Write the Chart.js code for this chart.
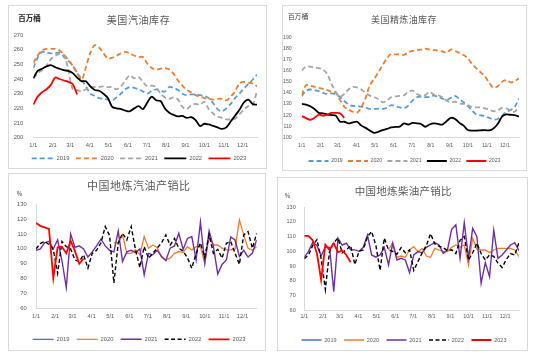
<!DOCTYPE html>
<html><head><meta charset="utf-8">
<script src="https://cdn.jsdelivr.net/npm/chart.js@4.4.0/dist/chart.umd.min.js"></script>
<style>
html,body{margin:0;padding:0;background:#fff;}
body{width:550px;height:357px;position:relative;overflow:hidden;}
.panel{position:absolute;border:1px solid #D9D9D9;box-sizing:border-box;background:#fff;}
canvas{position:absolute;}
</style></head><body>
<div class="panel" style="left:8px;top:5px;width:259px;height:164px"></div>
<div class="panel" style="left:282px;top:5px;width:245px;height:166px"></div>
<div class="panel" style="left:8px;top:173px;width:258px;height:178px"></div>
<div class="panel" style="left:277px;top:177px;width:251px;height:174px"></div>
<canvas id="c1"></canvas><canvas id="c2"></canvas><canvas id="c3"></canvas><canvas id="c4"></canvas>
<script>
// ---------- labels ----------
const monthLabels = ['1/1','2/1','3/1','4/1','5/1','6/1','7/1','8/1','9/1','10/1','11/1','12/1'];
const monthStartDay = [0,31,59,90,120,151,181,212,243,273,304,334];
const seriesNames = ['2019','2020','2021','2022','2023'];

// ---------- 美国汽油库存 (百万桶), weekly ----------
const gas2019 = [247.5,254.5,258.5,258,257.5,257.5,258,255,252.5,249,244,240,235,230,228.5,227,226.5,226,225.5,227.5,230,233,234.5,234,233,231.5,230,232,233,232,231.5,234.5,234,232.5,230,229,229.5,229.5,229,228.5,227,223.5,219.5,218,220,223,227,230,233.5,236.5,239.5,243];
const gas2020 = [251,256,259.5,260.5,260.5,260.5,259.5,256.5,253,249,244.5,239.5,248,258,263,261.5,257.5,254,254.5,256,257.5,258.5,257.5,256,255,255,250.5,247.5,246.5,247,247.5,246.5,243.5,239,235.5,232.5,231,229,228,227,226.5,226,226.5,226.5,225.5,228,231.5,237,238,237.5,237,235];
const gas2021 = [240.5,244,246,249,253.5,256,257,256.5,246,233,232.5,231.5,233,234.5,234.5,234.5,235,234.5,234.5,233,235,239,242.5,240.5,241.5,238,235,235.5,234.5,230,227.5,226.5,227.5,226,221,219.5,222,223,222.5,224.5,219.5,216.5,214.5,213.5,212.5,212.5,213,216,219,221.5,222.3,232];
const gas2022 = [240.5,245.5,247,248.5,249.5,248,247,246,245.5,244,241,238.5,238.5,235,232.5,232,230,227,221,220,219.5,218.5,218,220,221.5,219.5,224,228,225.5,225,220,217,215.5,214.5,214.8,213.5,214,212,208,209.5,209,208,207,206,207,211,215,219,224,226,223,222.5];
const gas2023 = [222.5,228,231,233,236,241,240,239,238,236.5,229.5];

// ---------- 美国精炼油库存 (百万桶), weekly ----------
const dist2019 = [137,142,143,142.5,141.5,140,139,139.5,138.5,136,132.5,129.5,128.2,128,127.6,126.5,125.5,125.5,125.8,125.5,126.5,129,128,127,126.2,128.5,133,136,136.6,136.2,136.4,137.5,136.5,134.8,133.6,135.5,137.2,134.5,131.5,128,124,120.5,119.8,119,117.5,116,116.5,119.5,122.5,124.5,127.5,135];
const dist2020 = [138,147,146.5,145.5,144.5,143.5,142.5,141,140,133.5,127.5,125,123,122.2,127,135.5,147,152.5,158.5,165,171,175,174.7,174.7,174.2,176.5,177.7,178.3,179,179.8,179,178.6,178.2,177.3,176.2,179,177.7,176,174,171,166,162,158.5,155,149,144.5,146,150,151.5,149.5,150.5,153];
const dist2021 = [160,163.6,163.6,163,162.3,161,157,148,141,136.6,139,143,145.3,145,143,140,137.5,136.2,134.5,131.5,133,136,136.8,137.2,137.8,140.8,142,139,137.5,138,140.8,138.5,138,136,133,131.5,132,130.4,130,129,127,127,126.8,126,125,123.5,124,126.5,126,124,123,128];
const dist2022 = [130,129.5,128,125.5,122,121.6,120.5,120,119.5,114,114,112.5,113.5,114,110.5,108.5,106,104,105,106.5,107.5,109,109.3,109.6,112.5,111.5,113,112.6,112,109.5,111.5,112.5,112,111.5,114.5,117.5,116.5,113,110.5,106.5,106,106,106.3,106.5,106.2,108,112,118.5,120.6,120.3,120,118.6];
const dist2023 = [119.2,117.3,115.8,117.5,120.5,119.5,120.5,121.9,122,121.6,117.5];

// ---------- 中国地炼汽油产销比 (%), weekly ----------
const gr2019 = [];
const gr2020 = [null,null,null,null,null,null,null,null,null,null,null,null,null,null,null,null,null,null,104,104,109.4,97,97,99.3,96,108.3,100.4,102.6,101,94.4,92.6,93.7,97,98.2,97.5,101.5,99.3,101.5,101.5,90.3,108.3,102.6,102.6,100.4,99.3,99.3,100,119.5,109.4,100.4,99.3,101.5];
const gr2021 = [99,100,104,105,100,106,92,74,110,101,102,100,94.5,98,102,106.5,102,99,98,112,91.5,98,99,97.5,100,82.5,97,96,99,95,92,100.5,102,110.5,99.5,107,108.3,92.6,118,90.5,112,101.5,83,89.5,92.5,108,106,95,99,94.5,97,106];
const gr2022 = [100,103.5,105,103,99.5,83.5,105,101.5,100,92.5,91.5,96,87,97,99,104,115,109,77,104,110.5,106,115,99.3,87.5,101.5,93.7,97,100.5,104,109.4,102.6,107,100.4,98.5,94,87,97,104,94.4,109.4,97,99.7,93.7,103.8,104.9,97,89.6,109.4,111.6,100.4,110.5];
const gr2023 = [117.5,115.5,114.5,113.5,80.5,101,101.5,97,105.5,98.5,90,93.5];

// ---------- 中国地炼柴油产销比 (%), weekly ----------
const dr2019 = [];
const dr2020 = [null,null,null,null,null,null,null,null,null,null,null,null,null,null,null,null,null,null,null,null,100.9,105.9,95.9,96.8,95.9,100.9,103.2,99.8,102,96.8,95.9,102,100.9,99.8,99.8,102.7,104.3,102.7,104.3,90.7,108.9,101.4,100.9,100.9,99.1,100.9,102,102,102,102,100.9,96.4];
const dr2021 = [96,100,106,104,97,103,102.7,72.5,109,104.3,105.5,101,101,100,102.7,111,97.5,96,97.5,102.7,90.7,105.5,94.1,95.2,94.1,85.5,97.5,99.8,99.1,102.7,104.3,105.9,104.3,98.6,100.9,115,118,95.2,119.5,95.2,115.7,110,78.2,92.3,82.7,114.5,95.2,97.5,100.9,104.3,105.9,100.4];
const dr2022 = [95,97.5,104,108,95,74,100,106,109,99,101,104,91,100,101,110,113.5,104,87,109,101,100,98,102.5,99,101,87,93,99,104,112,105,103.5,102.5,100.5,101,98.5,107.5,110,94,99,105.5,98.5,94,97.5,96.5,92,89,94.5,98.5,97.5,106];
const dr2023 = [110.5,110.5,107.5,98.5,80.5,104.5,101,105.5,99.5,100.5,97.5,92.5];

// ---------- styles ----------
const stockStyles = [
  {color:'#5B9BD5', w:1.8, dash:[5,3]},
  {color:'#ED7D31', w:1.8, dash:[5,3]},
  {color:'#A5A5A5', w:1.8, dash:[5,3]},
  {color:'#000000', w:1.8, dash:[]},
  {color:'#FF0000', w:1.8, dash:[]}
];
const ratioStyles = [
  {color:'#4472C4', w:1.3, dash:[]},
  {color:'#ED7D31', w:1.3, dash:[]},
  {color:'#7030A0', w:1.4, dash:[]},
  {color:'#000000', w:1.4, dash:[4,2.5]},
  {color:'#FF0000', w:1.8, dash:[]}
];

function makeDatasets(arrays, styles, tension) {
  return arrays.map((arr, k) => ({
    label: seriesNames[k],
    data: arr.map((v, i) => ({x: i * 7, y: v})),
    borderColor: styles[k].color,
    backgroundColor: styles[k].color,
    borderWidth: styles[k].w,
    borderDash: styles[k].dash,
    pointRadius: 0, pointHoverRadius: 0, pointStyle: 'line',
    tension: tension, fill: false, spanGaps: false,
    order: arrays.length - 1 - k
  }));
}

const panelText = {
  id: 'panelText',
  afterDraw(chart, args, o) {
    const ctx = chart.ctx;
    ctx.save();
    ctx.textBaseline = 'middle';
    ctx.fillStyle = o.titleColor;
    ctx.font = `400 ${o.titleSize}px "Noto Sans CJK SC"`;
    ctx.textAlign = 'center';
    try { ctx.letterSpacing = o.titleSpacing + 'px'; } catch(e) {}
    ctx.fillText(o.title, o.titleX - o.L, o.titleY - o.T);
    try { ctx.letterSpacing = '0px'; } catch(e) {}
    ctx.fillStyle = o.unitColor;
    ctx.font = `${o.unitWeight} ${o.unitSize}px "Noto Sans CJK SC"`;
    ctx.textAlign = o.unitAlign;
    ctx.fillText(o.unit, o.unitX - o.L, o.unitY - o.T);
    ctx.restore();
  }
};

function buildPanel(p) {
  const W = Math.round(2 * (p.legendCX - p.L));
  const yW = p.areaLeft - p.L;
  const y2W = p.L + W - p.areaRight;
  const lfs = p.legendFont;
  const h = p.legendCY - p.areaBottom - p.legendPad - lfs / 2;
  const legendH = lfs + p.legendPad + 10;
  const Hraw = (p.areaBottom - p.T) + h + legendH;
  const H = Math.ceil(Hraw);
  const cv = document.getElementById(p.id);
  cv.width = W; cv.height = H;
  cv.style.left = p.L + 'px'; cv.style.top = p.T + 'px';
  cv.style.width = W + 'px'; cv.style.height = H + 'px';
  const tickFont = {family: 'Liberation Sans', size: p.tickFont};
  const xPad = p.xLabelCY - p.areaBottom - p.tickFont * 1.2 / 2;
  new Chart(cv, {
    type: 'line',
    data: {datasets: p.datasets},
    options: {
      responsive: false, animation: false, devicePixelRatio: 1,
      layout: {padding: {top: p.areaTop - p.T, left: 0, right: 0, bottom: H - Hraw}},
      plugins: {
        tooltip: {enabled: false},
        title: {display: false},
        legend: {
          position: 'bottom',
          labels: {
            usePointStyle: true, pointStyle: 'line', pointStyleWidth: p.boxW, boxHeight: lfs,
            padding: p.legendPad, color: '#595959',
            font: {family: 'Liberation Sans', size: lfs},
            generateLabels(chart) {
              const items = Chart.defaults.plugins.legend.labels.generateLabels(chart);
              items.forEach(it => {
                const ds = chart.data.datasets[it.datasetIndex];
                it.lineDash = ds.borderDash; it.lineWidth = ds.borderWidth;
                it.strokeStyle = ds.borderColor; it.fillStyle = ds.borderColor;
                it.pointStyle = 'line'; it.lineCap = 'butt';
              });
              items.sort((a, b) => a.datasetIndex - b.datasetIndex);
              return items;
            }
          }
        },
        panelText: p.text
      },
      scales: {
        x: {
          type: 'linear', min: 0, max: 357,
          afterBuildTicks(s) { s.ticks = monthStartDay.map(v => ({value: v})); },
          ticks: {autoSkip: false, maxRotation: 0, minRotation: 0,
                  callback: (v, i) => monthLabels[i], padding: xPad, font: tickFont, color: '#595959'},
          grid: {display: false, drawTicks: false},
          border: {display: true, color: '#D9D9D9', width: 1},
          afterFit(s) { s.height = h; }
        },
        y: {
          min: p.yMin, max: p.yMax,
          ticks: {stepSize: 10, padding: p.yPad, font: tickFont, color: '#595959'},
          grid: {display: false, drawTicks: false},
          border: {display: p.yBorder, color: '#D9D9D9', width: 1},
          afterFit(s) { s.width = yW; }
        },
        y2: {
          position: 'right', display: true,
          grid: {display: false, drawTicks: false}, border: {display: false},
          ticks: {display: false},
          afterFit(s) { s.width = y2W; }
        }
      }
    },
    plugins: [panelText]
  });
}

buildPanel({
  id: 'c1', L: 8, T: 5, legendCX: 139, areaLeft: 33.3, areaRight: 257, areaTop: 35, areaBottom: 137.7,
  xLabelCY: 145.7, legendCY: 158.3, legendFont: 5.8, legendPad: 6.4, boxW: 22, tickFont: 5.8, yPad: 10,
  yMin: 200, yMax: 270, yBorder: false,
  datasets: makeDatasets([gas2019, gas2020, gas2021, gas2022, gas2023], stockStyles, 0.3),
  text: {L: 8, T: 5, title: '美国汽油库存', titleX: 138.5, titleY: 20, titleSize: 10, titleSpacing: 0.6, titleColor: '#595959',
         unit: '百万桶', unitX: 18.3, unitY: 18.3, unitSize: 7.5, unitWeight: 700, unitColor: '#262626', unitAlign: 'left'}
});
buildPanel({
  id: 'c2', L: 282, T: 5, legendCX: 404.5, areaLeft: 301.7, areaRight: 519, areaTop: 37.3, areaBottom: 137.3,
  xLabelCY: 145.7, legendCY: 161, legendFont: 5.2, legendPad: 5.3, boxW: 20, tickFont: 5.2, yPad: 10,
  yMin: 100, yMax: 190, yBorder: false,
  datasets: makeDatasets([dist2019, dist2020, dist2021, dist2022, dist2023], stockStyles, 0.3),
  text: {L: 282, T: 5, title: '美国精炼油库存', titleX: 404, titleY: 20, titleSize: 9, titleSpacing: 0.4, titleColor: '#595959',
         unit: '百万桶', unitX: 287.7, unitY: 16.7, unitSize: 6.9, unitWeight: 400, unitColor: '#404040', unitAlign: 'left'}
});
buildPanel({
  id: 'c3', L: 8, T: 173, legendCX: 139, areaLeft: 36, areaRight: 256.7, areaTop: 204.3, areaBottom: 308.3,
  xLabelCY: 316.7, legendCY: 339.3, legendFont: 5.8, legendPad: 7.2, boxW: 21, tickFont: 5.8, yPad: 9.3,
  yMin: 60, yMax: 130, yBorder: true,
  datasets: makeDatasets([gr2019, gr2020, gr2021, gr2022, gr2023], ratioStyles, 0),
  text: {L: 8, T: 173, title: '中国地炼汽油产销比', titleX: 138.7, titleY: 186, titleSize: 11, titleSpacing: 0.5, titleColor: '#595959',
         unit: '%', unitX: 19.5, unitY: 193.3, unitSize: 6, unitWeight: 400, unitColor: '#404040', unitAlign: 'center'}
});
buildPanel({
  id: 'c4', L: 278, T: 177, legendCX: 404, areaLeft: 304.3, areaRight: 519, areaTop: 207.3, areaBottom: 310,
  xLabelCY: 316.7, legendCY: 340, legendFont: 5.5, legendPad: 7.5, boxW: 20, tickFont: 5.5, yPad: 8.6,
  yMin: 60, yMax: 130, yBorder: true,
  datasets: makeDatasets([dr2019, dr2020, dr2021, dr2022, dr2023], ratioStyles, 0),
  text: {L: 278, T: 177, title: '中国地炼柴油产销比', titleX: 403.3, titleY: 190.7, titleSize: 10.5, titleSpacing: 0.3, titleColor: '#595959',
         unit: '%', unitX: 287.5, unitY: 196, unitSize: 6, unitWeight: 400, unitColor: '#404040', unitAlign: 'center'}
});
</script>
</body></html>
